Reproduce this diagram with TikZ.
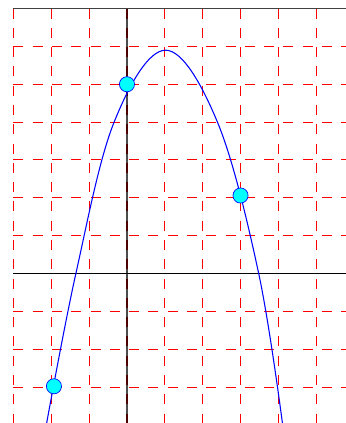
\documentclass[tikz,border=0pt]{standalone}
\definecolor{ptfill}{RGB}{0,255,255}
\begin{document}
\begin{tikzpicture}[x=1cm,y=1cm,
  gridline/.style={red, line width=0.8pt, dash pattern=on 7.5pt off 7pt},
  axisline/.style={black, line width=0.75pt},
  curveline/.style={blue, line width=0.8pt},
  pt/.style={circle, draw=blue, fill=ptfill, line width=0.5pt, minimum size=0.4cm, inner sep=0pt}]
\useasboundingbox (-3.355,-3.950) rectangle (5.786,7.226);
\clip (-3.355,-3.950) rectangle (5.786,7.226);
% grid
\foreach \x in {-3,...,5} \draw[gridline] (\x,7) -- (\x,-3.95);
\foreach \y in {-3,-2,-1,1,2,3,4,5,6} \draw[gridline] (-3,\y) -- (5.786,\y);
% axes and top border
\draw[axisline] (-3,0) -- (5.786,0);
\draw[black, opacity=0.7, line width=0.8pt] (0,7) -- (0,-3.95);
\draw[black!75, line width=1.1pt] (-3,7) -- (5.786,7);
% curve
\draw[curveline] plot[smooth, tension=0.6] coordinates {(-2.14,-4.05) (-1.35,0) (-0.34,4) (1.02,5.9) (2.39,4) (3.48,0) (4.12,-4.05)};
% points
\node[pt] (p1) at (0,5) {};
\node[pt] (p2) at (3.0,2.06) {};
\node[pt] (p3) at (-1.93,-2.98) {};
\end{tikzpicture}
\end{document}
